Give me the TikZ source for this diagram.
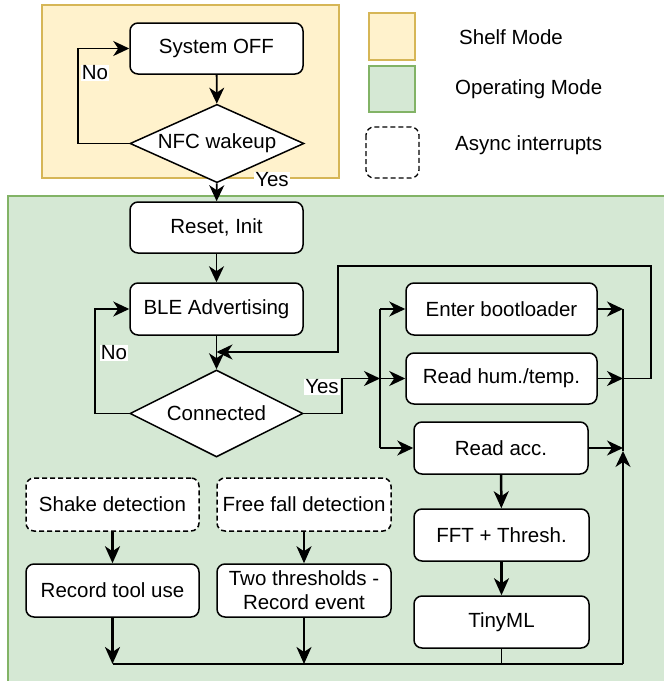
\documentclass[tikz,border=0pt]{standalone}
\usepackage{fontspec}
\setmainfont{Liberation Sans}
\usetikzlibrary{shapes.geometric,arrows.meta}
\definecolor{shelffill}{HTML}{FFF2CC}
\definecolor{shelfline}{HTML}{D6B656}
\definecolor{opfill}{HTML}{D5E8D4}
\definecolor{opline}{HTML}{82B366}
\tikzset{
  txt/.style={font=\fontsize{20.5}{24}\selectfont},
  stepbox/.style={txt, draw, fill=white, rounded corners=8pt, line width=1.5pt, inner sep=0pt, align=center},
  asyncbox/.style={stepbox, dashed, dash pattern=on 5pt off 3pt},
  decision/.style={txt, draw, fill=white, diamond, line width=1.5pt, inner sep=0pt, aspect=2},
  conn/.style={line width=1.8pt},
  arr/.style={conn, -{Stealth[length=16pt,width=15pt,inset=5pt]}},
  thickarr/.style={line width=2.5pt, -{Stealth[length=17pt,width=15pt,inset=5pt]}},
  lbl/.style={txt, fill=white, inner sep=1pt},
}
\begin{document}
\begin{tikzpicture}[x=1pt,y=-1pt]
\useasboundingbox (0,0) rectangle (664,681);
% mode areas
\path[fill=shelffill, draw=shelfline, line width=1.4pt] (42,5) rectangle (339,178);
\path[fill=opfill, draw=opline, line width=1.4pt] (8,196) rectangle (680,700);
% legend
\path[fill=shelffill, draw=shelfline, line width=1.4pt] (369,13) rectangle (415,60);
\path[fill=opfill, draw=opline, line width=1.4pt] (369,66) rectangle (415,112);
\draw[line width=1.3pt, dashed, dash pattern=on 5pt off 3pt, rounded corners=8pt] (366,127) rectangle (419,178);
\node[txt, anchor=west, inner sep=0pt] (lshelf) at (459,37) {Shelf Mode};
\node[txt, anchor=west, inner sep=0pt] (lop) at (455,89) {Operating Mode};
\node[txt, anchor=west, inner sep=0pt] (lasync) at (455,145) {Async interrupts};
% nodes
\node[stepbox, minimum width=173pt, minimum height=51pt] (sysoff) at (216.5,48.5) {System OFF};
\node[decision, minimum width=174pt, minimum height=69pt] (nfc) at (217,143.5) {NFC wakeup};
\node[stepbox, minimum width=173pt, minimum height=51pt] (reset) at (216.5,227.5) {Reset, Init};
\node[stepbox, minimum width=173pt, minimum height=52pt] (ble) at (216.5,309) {BLE Advertising};
\node[decision, minimum width=173pt, minimum height=87pt] (conn) at (216.5,413.5) {Connected};
\node[stepbox, minimum width=191pt, minimum height=52pt] (boot) at (501.5,309) {Enter bootloader};
\node[stepbox, minimum width=191pt, minimum height=51pt] (hum) at (501.5,378.5) {Read hum./temp.};
\node[stepbox, minimum width=174pt, minimum height=52pt] (acc) at (501,448) {Read acc.};
\node[stepbox, minimum width=175pt, minimum height=52pt] (fft) at (501.5,535) {FFT + Thresh.};
\node[stepbox, minimum width=175pt, minimum height=52pt] (tiny) at (501.5,622) {TinyML};
\node[asyncbox, minimum width=173pt, minimum height=53pt] (shake) at (112.5,504.5) {Shake detection};
\node[asyncbox, minimum width=174pt, minimum height=53pt] (free) at (304,504.5) {Free fall detection};
\node[stepbox, minimum width=173pt, minimum height=53pt] (rec) at (112.5,590.5) {Record tool use};
\node[stepbox, minimum width=174pt, minimum height=53pt] (two) at (304,590.5) {Two thresholds -\\Record event};
% waypoints
\coordinate (nol) at (78,143.5);
\coordinate (nol2) at (95,413.5);
\coordinate (yj) at (342,413.5);
\coordinate (split) at (380,378.5);
\coordinate (splittop) at (380,309);
\coordinate (splitbot) at (380,448);
\coordinate (mbo) at (623,309);
\coordinate (mhu) at (623,378.5);
\coordinate (mac) at (623,448);
\coordinate (mup) at (623,451);
\coordinate (mbot) at (623,664);
\coordinate (loopr) at (651,266);
\coordinate (loopl) at (338,266);
\coordinate (loopin) at (216.5,352);
\coordinate (brec) at (112.5,664);
\coordinate (btwo) at (304,664);
\coordinate (btiny) at (501.5,664);
% connectors
\draw[arr] (sysoff) -- (nfc);
\draw[arr] (nfc.west) -- (nol) |- (sysoff.west);
\node[lbl] (lno1) at (95,73) {No};
\draw[arr] (nfc) -- (reset);
\node[lbl] (lyes1) at (272,180) {Yes};
\draw[arr] (reset) -- (ble);
\draw[arr] (ble) -- (conn);
\draw[arr] (conn.west) -- (nol2) |- (ble.west);
\node[lbl] (lno2) at (114,353) {No};
\draw[arr] (conn.east) -- (yj) |- (split);
\node[lbl] (lyes2) at (322,387) {Yes};
\draw[conn] (splittop) -- (splitbot);
\draw[arr] (splittop) -- (boot.west);
\draw[arr] (split) -- (hum.west);
\draw[arr] (splitbot) -- (acc.west);
\draw[arr] (boot.east) -- (mbo);
\draw[arr] (hum.east) -- (mhu);
\draw[arr] (acc.east) -- (mac);
\draw[conn] (mbo) -- (mup);
\draw[arr] (mbot) -- (mup);
\draw[arr] (mhu) -| (loopr) -- (loopl) |- (loopin);
\draw[thickarr] (acc) -- (fft);
\draw[thickarr] (fft) -- (tiny);
\draw[conn] (tiny) -- (btiny);
\draw[thickarr] (shake) -- (rec);
\draw[thickarr] (free) -- (two);
\draw[thickarr] (rec) -- (brec);
\draw[thickarr] (two) -- (btwo);
\draw[conn] (brec) -- (mbot);
\end{tikzpicture}
\end{document}
